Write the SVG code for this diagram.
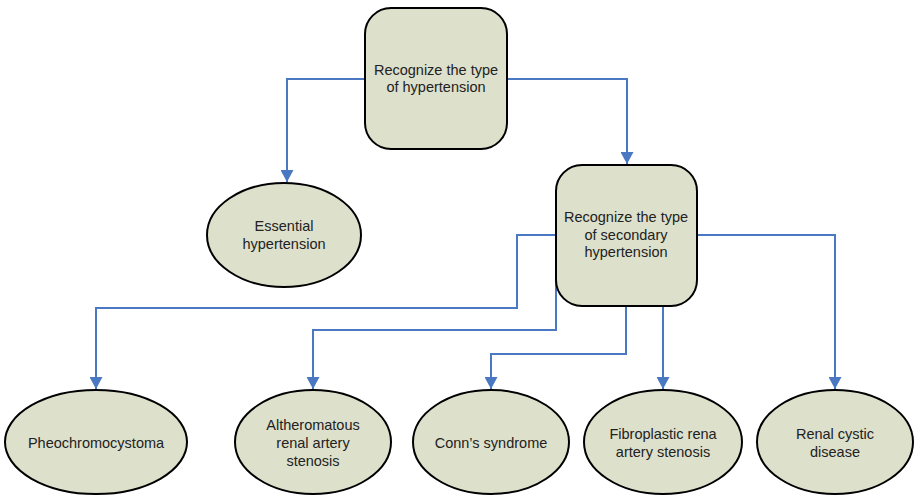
<svg xmlns="http://www.w3.org/2000/svg" width="918" height="497" viewBox="0 0 918 497">
<style>
.n{fill:#DDE0CB;stroke:#000;stroke-width:2}
.t{font-family:"Liberation Sans",Arial,sans-serif;font-size:14.5px;fill:#222;text-anchor:middle}
.c{fill:none;stroke:#4A78C2;stroke-width:2}
</style>
<defs>
<marker id="d" markerUnits="userSpaceOnUse" markerWidth="13" markerHeight="12" refX="6.5" refY="12" viewBox="0 0 13 12">
<path d="M0,0 L13,0 L6.5,12 Z" fill="#4A78C2"/>
</marker>
</defs>
<rect width="918" height="497" fill="#fff"/>
<g id="connectors">
<path class="c" d="M365,79 H287 V182" marker-end="url(#d)"/>
<path class="c" d="M507,79 H627 V164" marker-end="url(#d)"/>
<path class="c" d="M556,235 H517 V308 H96 V389" marker-end="url(#d)"/>
<path class="c" d="M556,260 V330 H313 V389" marker-end="url(#d)"/>
<path class="c" d="M626,306 V354 H491 V389" marker-end="url(#d)"/>
<path class="c" d="M663,306 V389" marker-end="url(#d)"/>
<path class="c" d="M697,235 H835 V389" marker-end="url(#d)"/>
</g>
<g id="n1"><rect class="n" x="365" y="8" width="142" height="141" rx="26"/>
<text class="t" x="436" y="75">Recognize the type</text><text class="t" x="436" y="92">of hypertension</text></g>
<g id="n2"><rect class="n" x="556" y="165" width="141" height="141" rx="26"/>
<text class="t" x="626" y="222">Recognize the type</text><text class="t" x="626" y="240">of secondary</text><text class="t" x="626" y="257">hypertension</text></g>
<g id="n3"><ellipse class="n" cx="284" cy="235" rx="77" ry="52"/>
<text class="t" x="284" y="231">Essential</text><text class="t" x="284" y="249">hypertension</text></g>
<g id="n4"><ellipse class="n" cx="96" cy="442" rx="91" ry="52"/>
<text class="t" x="96" y="448">Pheochromocystoma</text></g>
<g id="n5"><ellipse class="n" cx="313" cy="442" rx="78" ry="52"/>
<text class="t" x="313" y="430">Altheromatous</text><text class="t" x="313" y="448">renal artery</text><text class="t" x="313" y="466">stenosis</text></g>
<g id="n6"><ellipse class="n" cx="491" cy="442" rx="78" ry="52"/>
<text class="t" x="491" y="448">Conn’s syndrome</text></g>
<g id="n7"><ellipse class="n" cx="663" cy="442" rx="79" ry="52"/>
<text class="t" x="663" y="439">Fibroplastic rena</text><text class="t" x="663" y="457">artery stenosis</text></g>
<g id="n8"><ellipse class="n" cx="835" cy="442" rx="78" ry="52"/>
<text class="t" x="835" y="439">Renal cystic</text><text class="t" x="835" y="457">disease</text></g>
</svg>
